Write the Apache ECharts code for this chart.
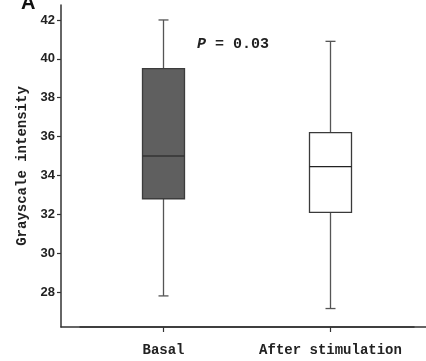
<!DOCTYPE html>
<html>
<head>
<meta charset="utf-8">
<script src="https://cdn.jsdelivr.net/npm/echarts@6/dist/echarts.min.js"></script>
<style>html,body{margin:0;padding:0;background:#fff}#c{width:426px;height:361px}</style>
</head>
<body>
<div id="c"></div>
<script>
const categories = ['Basal', 'After stimulation'];
const minVals = [27.8, 27.15];
const q1Vals = [32.8, 32.1];
const medianVals = [35.0, 34.45];
const q3Vals = [39.5, 36.2];
const maxVals = [42.0, 40.9];
const yTickValues = [28, 30, 32, 34, 36, 38, 40, 42];
const boxFills = ['#5f5f5f', '#ffffff'];
const boxStrokes = ['#3c3c3c', '#3a3a3a'];
const medianStrokes = ['#333333', '#222222'];

const data = categories.map((c, i) => [i, minVals[i], q1Vals[i], medianVals[i], q3Vals[i], maxVals[i]]);

const chart = echarts.init(document.getElementById('c'), null, {renderer: 'canvas'});
const mono = '"Liberation Mono", "DejaVu Sans Mono", monospace';

chart.setOption({
  animation: false,
  backgroundColor: '#fff',
  title: {
    text: 'A', left: 16, top: -12,
    textStyle: {fontFamily: 'Liberation Sans, Arial', fontWeight: 'bold', fontSize: 20, color: '#111'}
  },
  graphic: [{
    type: 'text', left: 197, top: 37,
    style: {
      text: '{p|P} = 0.03',
      font: 'bold 15px ' + mono,
      fill: '#222',
      rich: {p: {fontStyle: 'italic', fontWeight: 'bold', fontSize: 15, fontFamily: mono, fill: '#222'}}
    }
  }],
  grid: [
    {left: 80, right: 12, top: 5, bottom: 34},
    {left: 61, right: 0, top: 5, bottom: 34}
  ],
  xAxis: [{
    type: 'category', gridIndex: 0, data: categories, boundaryGap: true,
    axisLine: {show: true, lineStyle: {color: '#333', width: 1.5}},
    axisTick: {show: true, alignWithLabel: true, length: 5, lineStyle: {color: '#333', width: 1.2}},
    axisLabel: {interval: 0, margin: 16, fontFamily: mono, fontWeight: 'bold', fontSize: 14, color: '#222'}
  }, {
    type: 'value', gridIndex: 1, min: 0, max: 1,
    axisLine: {show: true, lineStyle: {color: '#333', width: 1.5}},
    axisTick: {show: false}, axisLabel: {show: false}, splitLine: {show: false}
  }],
  yAxis: [{
    type: 'value', gridIndex: 0, min: 26.2, max: 42.77, offset: 19,
    name: 'Grayscale intensity', nameLocation: 'middle', nameGap: 31, nameRotate: 90,
    nameTextStyle: {fontFamily: mono, fontSize: 14, fontWeight: 'bold', color: '#222'},
    axisLine: {show: true, lineStyle: {color: '#333', width: 1.5}},
    axisTick: {show: true, length: 4, customValues: yTickValues, lineStyle: {color: '#333', width: 1.2}},
    axisLabel: {customValues: yTickValues, margin: 6, fontFamily: 'Liberation Sans, Arial', fontWeight: 'bold', fontSize: 13, color: '#222'},
    splitLine: {show: false}
  }, {
    type: 'value', gridIndex: 1, show: false, min: 0, max: 1
  }],
  series: [{
    type: 'custom',
    xAxisIndex: 0, yAxisIndex: 0,
    encode: {x: 0, y: [1, 2, 3, 4, 5]},
    data: data,
    renderItem: function (params, api) {
      const i = api.value(0);
      const pMin = api.coord([i, api.value(1)]);
      const pQ1 = api.coord([i, api.value(2)]);
      const pMed = api.coord([i, api.value(3)]);
      const pQ3 = api.coord([i, api.value(4)]);
      const pMax = api.coord([i, api.value(5)]);
      const x = pMin[0];
      const hw = 21, cap = 5;
      const wStyle = {stroke: '#555', lineWidth: 1.3};
      return {
        type: 'group',
        children: [
          {type: 'line', shape: {x1: x, y1: pMax[1], x2: x, y2: pQ3[1]}, style: wStyle},
          {type: 'line', shape: {x1: x, y1: pQ1[1], x2: x, y2: pMin[1]}, style: wStyle},
          {type: 'line', shape: {x1: x - cap, y1: pMax[1], x2: x + cap, y2: pMax[1]}, style: wStyle},
          {type: 'line', shape: {x1: x - cap, y1: pMin[1], x2: x + cap, y2: pMin[1]}, style: wStyle},
          {type: 'rect', shape: {x: x - hw, y: pQ3[1], width: hw * 2, height: pQ1[1] - pQ3[1]},
            style: {fill: boxFills[i], stroke: boxStrokes[i], lineWidth: 1.3}},
          {type: 'line', shape: {x1: x - hw, y1: pMed[1], x2: x + hw, y2: pMed[1]},
            style: {stroke: medianStrokes[i], lineWidth: 1.3}}
        ]
      };
    }
  }]
});
</script>
</body>
</html>
